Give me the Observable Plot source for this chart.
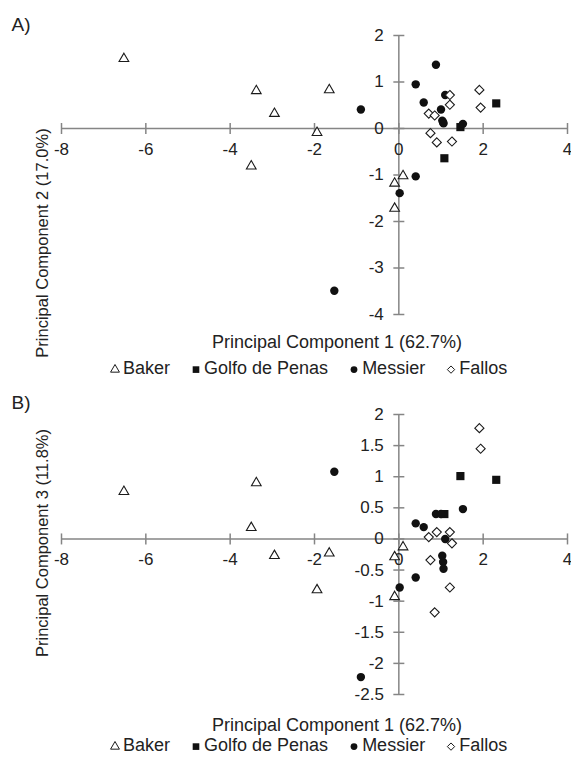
<!DOCTYPE html>
<html><head><meta charset="utf-8">
<script src="https://cdn.jsdelivr.net/npm/d3@7"></script>
<script src="https://cdn.jsdelivr.net/npm/@observablehq/plot@0.6"></script>
<style>
body{margin:0;background:#fff;font-family:"Liberation Sans",Arial,sans-serif;color:#222;}
#page{position:relative;width:571px;height:759px;overflow:hidden;background:#fff;}
#page svg.plot{position:absolute;left:0;}
.t{position:absolute;white-space:nowrap;line-height:1;}
.c{transform:translate(-50%,-50%);}
.legend{position:absolute;display:flex;align-items:center;gap:20px;font-size:18px;line-height:1.1;transform:translateY(-50%);}
.legend .it{display:flex;align-items:center;gap:2px;}
</style></head><body><div id="page"></div>
<script>
// ---------- data ----------
const groups = ["Baker", "Golfo de Penas", "Messier", "Fallos"];

const pc1Baker = [-6.52, -3.38, -3.50, -2.95, -1.65, -1.94, 0.10, -0.10, -0.10];
const pc2Baker = [1.50, 0.81, -0.81, 0.32, 0.83, -0.09, -1.02, -1.18, -1.72];
const pc3Baker = [0.76, 0.90, 0.18, -0.27, -0.23, -0.82, -0.13, -0.29, -0.93];

const pc1Golfo = [1.08, 1.46, 2.31];
const pc2Golfo = [-0.64, 0.03, 0.54];
const pc3Golfo = [0.40, 1.01, 0.95];

const pc1Messier = [-1.53, -0.90, 0.02, 0.40, 0.40, 0.59, 0.88, 1.00, 1.03, 1.05, 1.06, 1.10, 1.52];
const pc2Messier = [-3.49, 0.41, -1.39, 0.95, -1.03, 0.56, 1.37, 0.41, 0.17, 0.13, 0.11, 0.72, 0.10];
const pc3Messier = [1.08, -2.22, -0.78, 0.25, -0.62, 0.19, 0.40, 0.40, -0.27, -0.37, -0.48, 0.00, 0.48];

const pc1Fallos = [1.21, 1.21, 1.91, 1.94, 0.71, 0.85, 0.75, 0.90, 1.26];
const pc2Fallos = [0.72, 0.51, 0.83, 0.45, 0.32, 0.28, -0.10, -0.30, -0.28];
const pc3Fallos = [0.11, -0.78, 1.78, 1.45, 0.03, -1.18, -0.34, 0.11, -0.07];

const xTicks = [-8, -6, -4, -2, 0, 2, 4];
const yTicksA = [-4, -3, -2, -1, 0, 1, 2];
const yTicksB = [-2.5, -2, -1.5, -1, -0.5, 0, 0.5, 1, 1.5, 2];

const xTitle = "Principal Component 1 (62.7%)";
const yTitleA = "Principal Component 2 (17.0%)";
const yTitleB = "Principal Component 3 (11.8%)";
const panelLabels = ["A)", "B)"];

// ---------- build table ----------
const series = [
  [groups[0], pc1Baker, pc2Baker, pc3Baker],
  [groups[1], pc1Golfo, pc2Golfo, pc3Golfo],
  [groups[2], pc1Messier, pc2Messier, pc3Messier],
  [groups[3], pc1Fallos, pc2Fallos, pc3Fallos]
];
const rows = series.flatMap(([g, a, b, c]) => a.map((v, i) => ({group: g, pc1: v, pc2: b[i], pc3: c[i]})));

const style = {
  "Baker":          {symbol: "triangle", r: 3.6, fill: "white", stroke: "#1a1a1a"},
  "Golfo de Penas": {symbol: "square",   r: 4.6, fill: "#111",  stroke: "none"},
  "Messier":        {symbol: "circle",   r: 4.2, fill: "#111",  stroke: "none"},
  "Fallos":         {symbol: "diamond2", r: 4.1, fill: "white", stroke: "#1a1a1a"}
};

const axisColor = "#858585";
const textColor = "#222";
const vTick = {draw(ctx, size) { const r = Math.sqrt(size / Math.PI); ctx.moveTo(0, -r); ctx.lineTo(0, r); }};
const hTick = {draw(ctx, size) { const r = Math.sqrt(size / Math.PI); ctx.moveTo(-r, 0); ctx.lineTo(r, 0); }};
const fmt = d => String(d);

function panel(yKey, yTicks, top, height, marginTop, marginBottom) {
  const yDom = d3.extent(yTicks);
  const xDom = d3.extent(xTicks);
  const marks = [
    Plot.ruleY([0], {x1: xDom[0], x2: xDom[1], stroke: axisColor, strokeWidth: 1.5}),
    Plot.ruleX([0], {y1: yDom[0], y2: yDom[1], stroke: axisColor, strokeWidth: 1.5}),
    Plot.dot(xTicks, {x: d => d, y: () => 0, symbol: vTick, r: 5.5, stroke: axisColor, strokeWidth: 1.5}),
    Plot.dot(yTicks, {x: () => 0, y: d => d, symbol: hTick, r: 5.5, stroke: axisColor, strokeWidth: 1.5}),
    Plot.text(xTicks, {x: d => d, y: () => 0, text: fmt, dy: 21, fontSize: 17, fill: textColor}),
    Plot.text(yTicks, {x: () => 0, y: d => d, text: fmt, dx: -15, textAnchor: "end", fontSize: 17, fill: textColor})
  ];
  for (const g of groups) {
    const s = style[g];
    marks.push(Plot.dot(rows.filter(d => d.group === g), {
      x: "pc1", y: yKey, symbol: () => s.symbol, r: s.r, fill: s.fill, stroke: s.stroke, strokeWidth: 1.1
    }));
  }
  const svg = Plot.plot({
    width: 571, height,
    marginLeft: 61, marginRight: 4, marginTop, marginBottom,
    x: {domain: xDom, axis: null},
    y: {domain: yDom, axis: null},
    symbol: {type: "identity"},
    style: {fontFamily: '"Liberation Sans", Arial, sans-serif', background: "transparent", overflow: "visible"},
    marks
  });
  svg.classList.add("plot");
  svg.style.top = top + "px";
  return svg;
}

const page = document.getElementById("page");
page.appendChild(panel("pc2", yTicksA, 0, 330, 35, 16));
page.appendChild(panel("pc3", yTicksB, 380, 330, 34, 16));

function text(str, left, top, size, extra = "") {
  const d = document.createElement("div");
  d.className = "t c";
  d.textContent = str;
  d.style.left = left + "px";
  d.style.top = top + "px";
  d.style.fontSize = size + "px";
  d.style.color = textColor;
  if (extra) d.style.transform = "translate(-50%,-50%) " + extra;
  page.appendChild(d);
}

function legend(top) {
  const L = document.createElement("div");
  L.className = "legend";
  L.style.left = "109px";
  L.style.top = top + "px";
  L.style.color = textColor;
  const legendSize = {"Baker": 34, "Golfo de Penas": 44, "Messier": 36, "Fallos": 34};
  for (const g of groups) {
    const s = style[g];
    const it = document.createElement("div");
    it.className = "it";
    const sym = d3.create("svg").attr("width", 12).attr("height", 12);
    const typ = {triangle: d3.symbolTriangle, square: d3.symbolSquare, circle: d3.symbolCircle, diamond2: d3.symbolDiamond2}[s.symbol];
    sym.append("path").attr("transform", "translate(6,6.5)")
      .attr("d", d3.symbol(typ, legendSize[g])())
      .attr("fill", s.fill).attr("stroke", s.stroke).attr("stroke-width", 1);
    it.appendChild(sym.node());
    const sp = document.createElement("span");
    sp.textContent = g;
    it.appendChild(sp);
    L.appendChild(it);
  }
  page.appendChild(L);
}

// panel A text
text(panelLabels[0], 21, 24, 19);
text(yTitleA, 42, 243, 16.5, "rotate(-90deg)");
text(xTitle, 337, 342, 18);
legend(369);

// panel B text
text(panelLabels[1], 21, 402, 19);
text(yTitleB, 42, 543, 16.5, "rotate(-90deg)");
text(xTitle, 337, 725, 18);
legend(746);
</script></body></html>
